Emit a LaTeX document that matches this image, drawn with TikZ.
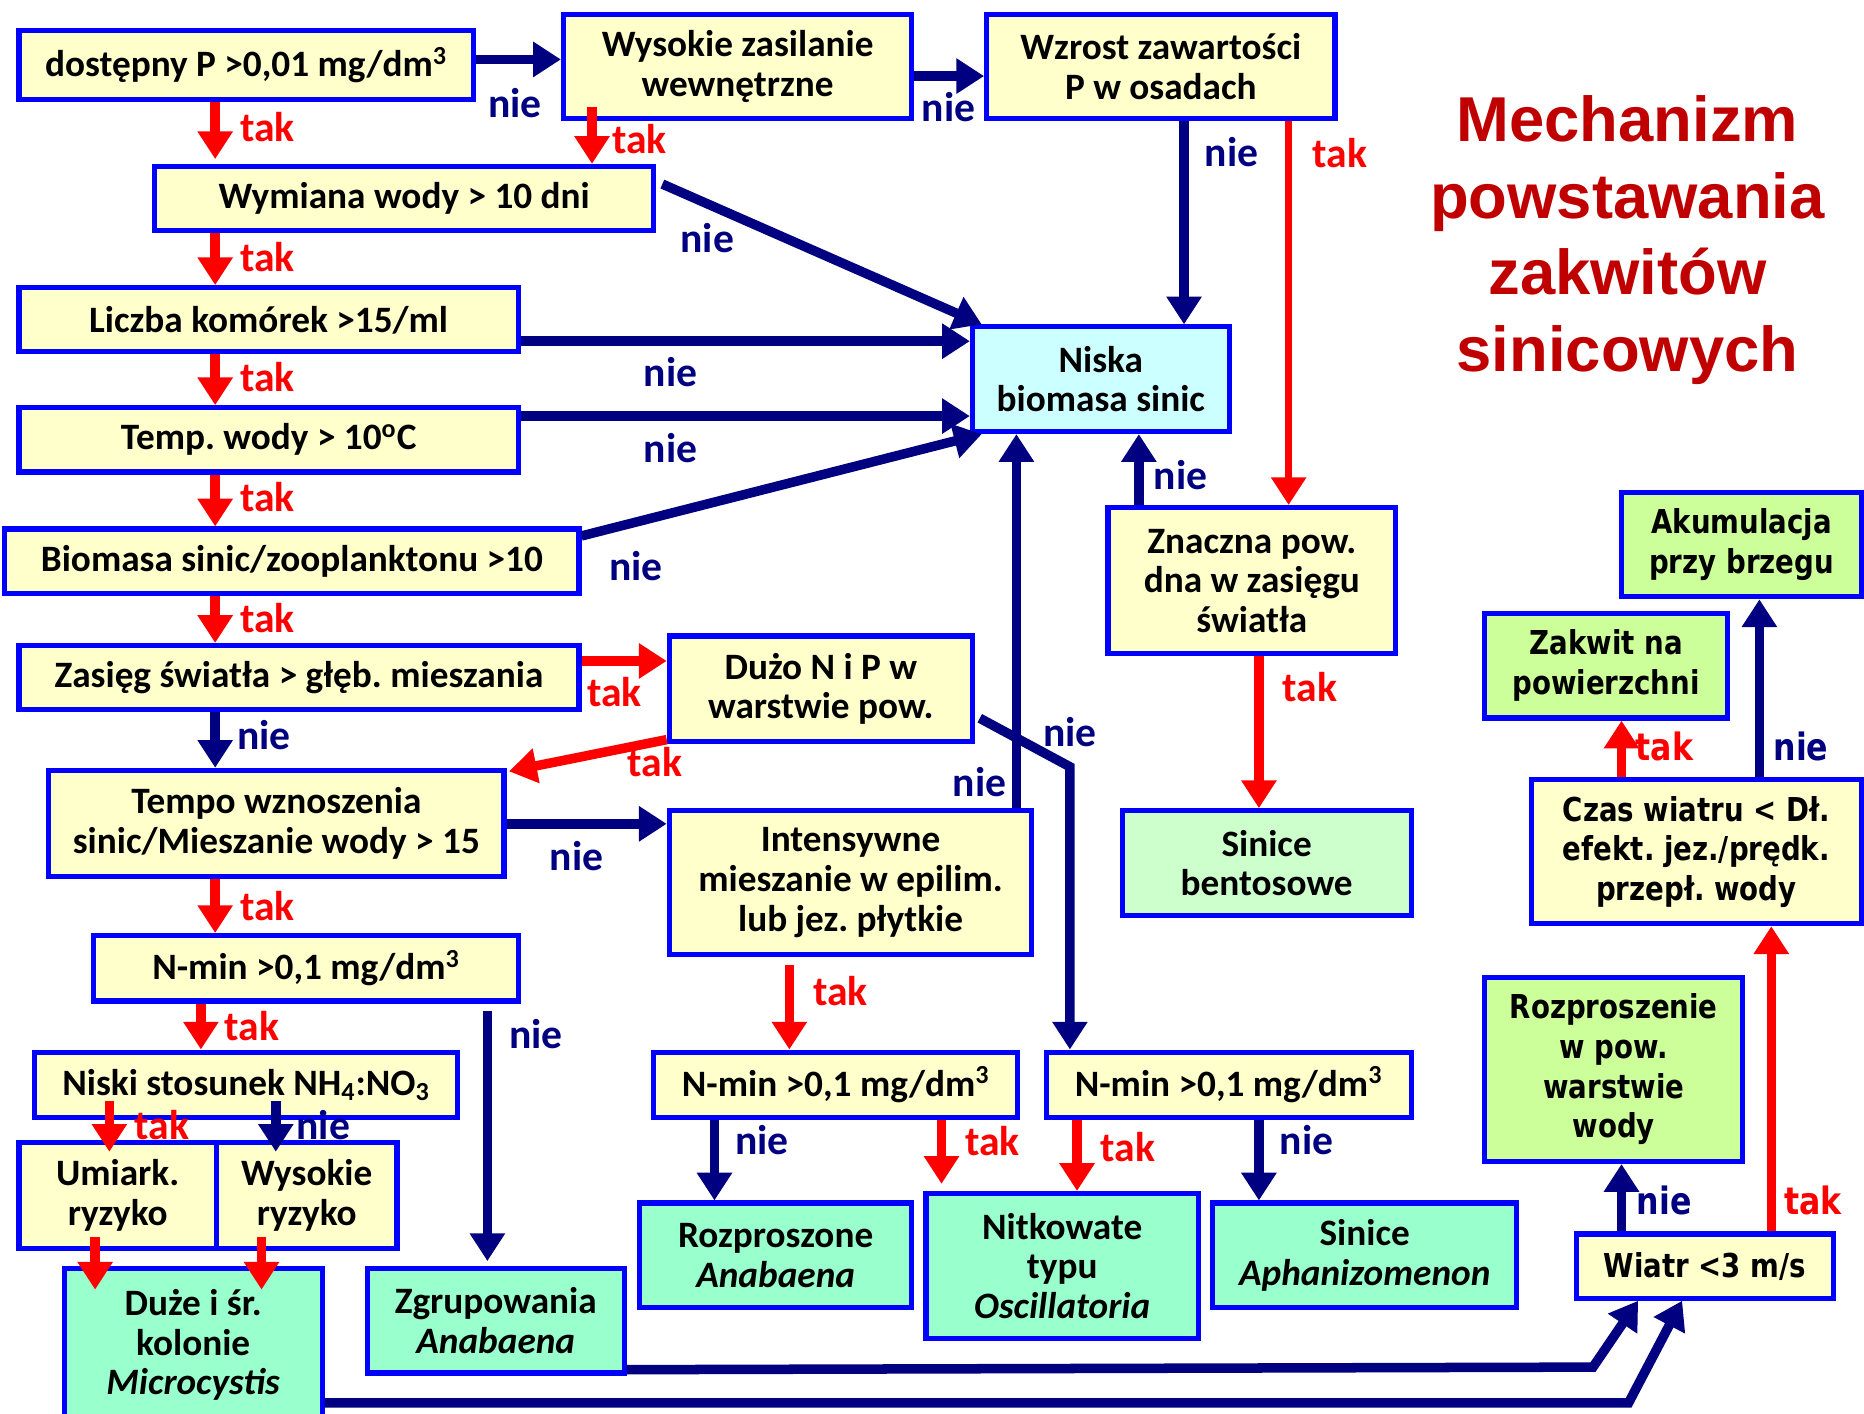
\documentclass[tikz,border=0pt]{standalone}
\usepackage{fontspec}
\setmainfont{Carlito}
\newfontfamily\rfont[FakeStretch=0.84]{DejaVu Sans}
\newfontfamily\tfont{Liberation Sans}
\usetikzlibrary{arrows.meta,calc}
\frenchspacing
\definecolor{navy}{HTML}{000080}
\definecolor{redc}{HTML}{FF0000}
\definecolor{boxblue}{HTML}{0000FF}
\definecolor{yelfill}{HTML}{FFFFCC}
\definecolor{cyanfill}{HTML}{CCFFFF}
\definecolor{bentfill}{HTML}{CCFFCC}
\definecolor{aquafill}{HTML}{99FFCC}
\definecolor{limefill}{HTML}{CCFF99}
\definecolor{titlered}{HTML}{C00000}
\newcommand\bx[7]{\node[#6,minimum width={(#4-#2)*0.6pt},minimum height={(#5-#3)*0.6pt}] (#1) at ({(#2+#4)/2},{(#3+#5)/2}) {#7};}
\tikzset{
  box/.style={draw=boxblue,line width=2.6pt,inner sep=1pt,align=center,font=\fontsize{18.8}{20}\selectfont\bfseries\frenchspacing},
  yel/.style={box,fill=yelfill},
  cya/.style={box,fill=cyanfill},
  bent/.style={box,fill=bentfill},
  aqua/.style={box,fill=aquafill},
  yelr/.style={yel,font=\rfont\fontsize{16.6}{20}\selectfont\bfseries\frenchspacing},
  lime/.style={box,fill=limefill,font=\rfont\fontsize{16.6}{20}\selectfont\bfseries\frenchspacing},
  nieA/.style={draw=navy,line width=4.8pt,-{Triangle[width=17pt,length=14pt]}},
  takA/.style={draw=redc,line width=4.8pt,-{Triangle[width=17pt,length=14pt]}},
  niel/.style={text=navy,inner sep=0pt,font=\fontsize{21}{21}\selectfont\bfseries},
  takl/.style={text=redc,inner sep=0pt,font=\fontsize{21}{21}\selectfont\bfseries},
  nielr/.style={text=navy,inner sep=0pt,font=\rfont\fontsize{19}{19}\selectfont\bfseries},
  taklr/.style={text=redc,inner sep=0pt,font=\rfont\fontsize{19}{19}\selectfont\bfseries},
}
\begin{document}
\begin{tikzpicture}[x=0.6pt,y=-0.6pt]
\useasboundingbox (0,0) rectangle (1568,1189);
\fill[white] (0,0) rectangle (1568,1189);
% title
\node[text=titlered,align=center,font=\tfont\fontsize{32}{38.8}\selectfont\bfseries] (title) at (1369,202) {Mechanizm\\powstawania\\zakwitów\\sinicowych};
% boxes
\bx{b1}{16}{26}{398}{84}{yel}{dostępny P >0,01 mg/dm\textsuperscript{3}}
\bx{b2}{474}{12}{767}{100}{yel}{Wysokie zasilanie\\wewnętrzne}
\bx{b3}{830}{12}{1123}{100}{yel}{Wzrost zawartości\\P w osadach}
\bx{b4}{130}{140}{550}{194}{yel}{Wymiana wody > 10 dni}
\bx{b5}{16}{242}{436}{296}{yel}{Liczba komórek >15/ml}
\bx{b6}{16}{343}{436}{397}{yel}{Temp. wody > 10\textsuperscript{o}C}
\bx{b7}{4}{445}{487}{499}{yel}{Biomasa sinic/zooplanktonu >10}
\bx{b8}{16}{543}{487}{597}{yel}{Zasięg światła > głęb. mieszania}
\bx{b9}{563}{535}{818}{624}{yel}{Dużo N i P w\\warstwie pow.}
\bx{b10}{41}{648}{424}{737}{yel}{Tempo wznoszenia\\sinic/Mieszanie wody > 15}
\bx{b11}{563}{682}{868}{803}{yel}{Intensywne\\mieszanie w epilim.\\lub jez. płytkie}
\bx{b12}{818}{275}{1034}{363}{cya}{Niska\\biomasa sinic}
\bx{b13}{932}{427}{1174}{550}{yel}{Znaczna pow.\\dna w zasięgu\\światła}
\bx{b14}{944}{682}{1187}{770}{bent}{Sinice\\bentosowe}
\bx{b15}{79}{787}{436}{842}{yel}{N-min >0,1 mg/dm\textsuperscript{3}}
\bx{b16}{29}{885}{385}{940}{yel}{Niski stosunek NH\textsubscript{4}:NO\textsubscript{3}}
\bx{b17}{16}{961}{182}{1050}{yel}{Umiark.\\ryzyko}
\bx{b18}{182}{961}{334}{1050}{yel}{Wysokie\\ryzyko}
\bx{b19}{54}{1067}{271}{1196}{aqua}{Duże i śr.\\kolonie\\\textit{Microcystis}}
\bx{b20}{309}{1067}{525}{1155}{aqua}{Zgrupowania\\\textit{Anabaena}}
\bx{b21}{550}{885}{856}{940}{yel}{N-min >0,1 mg/dm\textsuperscript{3}}
\bx{b22}{880}{885}{1187}{940}{yel}{N-min >0,1 mg/dm\textsuperscript{3}}
\bx{b23}{538}{1012}{767}{1100}{aqua}{Rozproszone\\\textit{Anabaena}}
\bx{b24}{779}{1004}{1008}{1126}{aqua}{Nitkowate\\typu\\\textit{Oscillatoria}}
\bx{b25}{1020}{1012}{1276}{1100}{aqua}{Sinice\\\textit{Aphanizomenon}}
\bx{b26}{1364}{414}{1566}{502}{lime}{Akumulacja\\przy brzegu}
\bx{b27}{1249}{516}{1453}{604}{lime}{Zakwit na\\powierzchni}
\bx{b28}{1288}{656}{1566}{777}{yelr}{Czas wiatru < Dł.\\efekt. jez./prędk.\\przepł. wody}
\bx{b29}{1249}{822}{1466}{977}{lime}{Rozproszenie\\w pow.\\warstwie\\wody}
\bx{b30}{1326}{1038}{1542}{1092}{yelr}{Wiatr <3 m/s}
% helper coordinates
\foreach \c in {80,92,169,181,220,232,410,498,601,664,792,855,906,958,996,1059,1084,1364,1378,1415,1480,1490}{\coordinate (c\c) at (\c,0);}
\foreach \r in {50,64,287,350,556,693,1180}{\coordinate (r\r) at (0,\r);}
\coordinate (k1) at (900,645);
\coordinate (k2) at (1340,1150);
\coordinate (k3) at (1370,1180);
% connectors
\draw[nieA] (b1.east |- r50) -- (b2.west |- r50);
\draw[takA] (b1.south -| c181) -- ($(b4.north -| c181)+(0,-4)$);
\draw[nieA] (b2.east |- r64) -- (b3.west |- r64);
\draw[takA] ($(b2.south -| c498)+(0,-12)$) -- (b4.north -| c498);
\draw[nieA] (b3.south -| c996) -- (b12.north -| c996);
\draw[takA,line width=3.6pt] (b3.south -| c1084) -- (b13.north -| c1084);
\draw[nieA] ($(b4.north east)+(5,17)$) -- ($(b12.north west)+(10,0)$);
\draw[takA] (b4.south -| c181) -- (b5.north -| c181);
\draw[nieA] (b5.east |- r287) -- (b12.west |- r287);
\draw[takA] (b5.south -| c181) -- (b6.north -| c181);
\draw[nieA] (b6.east |- r350) -- (b12.west |- r350);
\draw[takA] (b6.south -| c181) -- (b7.north -| c181);
\draw[nieA] ($(b7.north east)+(0,8)$) -- ($(b12.south west)+(10,0)$);
\draw[takA] (b7.south -| c181) -- (b8.north -| c181);
\draw[takA] (b8.east |- r556) -- (b9.west |- r556);
\draw[nieA] (b8.south -| c181) -- (b10.north -| c181);
\draw[takA] ($(b9.south west)+(0,-4)$) -- ($(b10.north east)+(2,3)$);
\draw[nieA] ($(b9.south east)+(4,-22)$) -- (k1) -- (k1 |- b22.north);
\draw[nieA] (b10.east |- r693) -- (b11.west |- r693);
\draw[takA] (b10.south -| c181) -- (b15.north -| c181);
\draw[nieA] (b11.north -| c855) -- (b12.south -| c855);
\draw[nieA] (b13.north -| c958) -- (b12.south -| c958);
\draw[takA] (b13.south -| c1059) -- (b14.north -| c1059);
\draw[takA] ($(b11.south -| c664)+(0,7)$) -- (b21.north -| c664);
\draw[takA] (b15.south -| c169) -- (b16.north -| c169);
\draw[nieA] ($(b15.south -| c410)+(0,6)$) -- ($(b20.north -| c410)+(0,-4)$);
\draw[takA] ($(b16.south -| c92)+(0,-16)$) -- ($(b17.north -| c92)+(0,10)$);
\draw[nieA] ($(b16.south -| c232)+(0,-16)$) -- ($(b18.north -| c232)+(0,10)$);
\draw[takA] ($(b17.south -| c80)+(0,-12)$) -- ($(b19.north -| c80)+(0,20)$);
\draw[takA] ($(b18.south -| c220)+(0,-12)$) -- ($(b19.north -| c220)+(0,20)$);
\draw[nieA] (b21.south -| c601) -- (b23.north -| c601);
\draw[takA] (b21.south -| c792) -- ($(b24.north -| c792)+(0,-6)$);
\draw[takA] (b22.south -| c906) -- (b24.north -| c906);
\draw[nieA] (b22.south -| c1059) -- (b25.north -| c1059);
\draw[nieA] ($(b20.south east)+(0,-5)$) -- (k2) -- (b30.south -| c1378);
\draw[nieA] (b19.east |- r1180) -- (k3) -- (b30.south -| c1415);
\draw[nieA] (b30.north -| c1364) -- (b29.south -| c1364);
\draw[takA] (b30.north -| c1490) -- (b28.south -| c1490);
\draw[takA] (b28.north -| c1364) -- (b27.south -| c1364);
\draw[nieA] (b28.north -| c1480) -- (b26.south -| c1480);
% labels
\node[niel] (l1) at (433,87) {nie};
\node[takl] (l2) at (225,107) {tak};
\node[niel] (l3) at (798,90) {nie};
\node[takl] (l4) at (538,117) {tak};
\node[niel] (l5) at (1036,128) {nie};
\node[takl] (l6) at (1127,129) {tak};
\node[niel] (l7) at (595,200) {nie};
\node[takl] (l8) at (225,216) {tak};
\node[niel] (l9) at (564,313) {nie};
\node[takl] (l10) at (225,317) {tak};
\node[niel] (l11) at (564,377) {nie};
\node[takl] (l12) at (225,418) {tak};
\node[niel] (l13) at (535,476) {nie};
\node[takl] (l14) at (225,520) {tak};
\node[takl] (l15) at (517,582) {tak};
\node[niel] (l16) at (222,618) {nie};
\node[takl] (l17) at (551,641) {tak};
\node[niel] (l18) at (900,616) {nie};
\node[niel] (l19) at (485,720) {nie};
\node[takl] (l20) at (225,762) {tak};
\node[niel] (l21) at (824,658) {nie};
\node[niel] (l22) at (993,400) {nie};
\node[takl] (l23) at (1102,578) {tak};
\node[takl] (l24) at (707,834) {tak};
\node[takl] (l25) at (212,863) {tak};
\node[niel] (l26) at (451,870) {nie};
\node[takl] (l27) at (136,946) {tak};
\node[niel] (l28) at (272,946) {nie};
\node[niel] (l29) at (641,959) {nie};
\node[takl] (l30) at (835,960) {tak};
\node[takl] (l31) at (949,965) {tak};
\node[niel] (l32) at (1099,959) {nie};
\node[nielr] (l33) at (1400,1010) {nie};
\node[taklr] (l34) at (1525,1010) {tak};
\node[taklr] (l35) at (1400,628) {tak};
\node[nielr] (l36) at (1515,628) {nie};
\end{tikzpicture}
\end{document}
